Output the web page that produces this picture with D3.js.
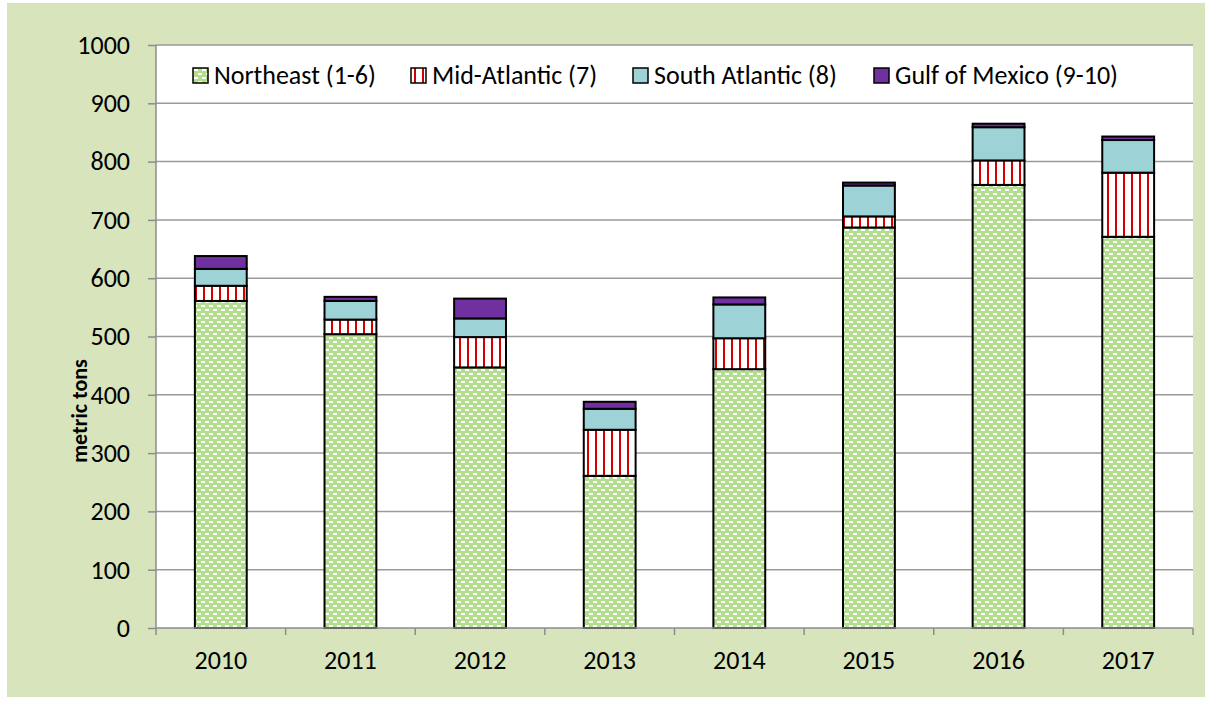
<!DOCTYPE html>
<html>
<head>
<meta charset="utf-8">
<script src="https://d3js.org/d3.v7.min.js"></script>
<style>
  body { margin: 0; background: white; }
  svg text { font-family: Carlito, 'Liberation Sans', Arial, sans-serif; fill: #000; }
</style>
</head>
<body>
<svg id="chart" width="1211" height="701"></svg>
<script>
// chart values
var years = ['2010', '2011', '2012', '2013', '2014', '2015', '2016', '2017'];
var northeast = [561, 504, 447, 261, 444, 687, 760, 671];
var midAtlantic = [26, 25, 52, 79, 53, 19, 42, 110];
var southAtlantic = [29, 32, 32, 36, 58, 53, 57, 56];
var gulfOfMexico = [22, 7, 34, 12, 12, 5, 6, 6];
var seriesNames = ['Northeast (1-6)', 'Mid-Atlantic (7)', 'South Atlantic (8)', 'Gulf of Mexico (9-10)'];
var yTicks = [0, 100, 200, 300, 400, 500, 600, 700, 800, 900, 1000];

var svg = d3.select('#chart');
var plotL = 156, plotR = 1193, plotT = 45, plotB = 628;

// outer background
svg.append('rect').attr('x', 7).attr('y', 3).attr('width', 1198).attr('height', 694)
  .attr('fill', '#d8e4bc');
svg.append('rect').attr('x', plotL).attr('y', plotT).attr('width', plotR - plotL).attr('height', plotB - plotT)
  .attr('fill', 'white');

// patterns
var defs = svg.append('defs');
var pNE = defs.append('pattern').attr('id', 'pNE').attr('patternUnits', 'userSpaceOnUse')
  .attr('width', 8).attr('height', 8);
pNE.append('rect').attr('width', 8).attr('height', 8).attr('fill', '#b3de8d');
pNE.append('rect').attr('x', 1).attr('y', 1).attr('width', 4).attr('height', 2).attr('fill', 'white');
pNE.append('rect').attr('x', 5).attr('y', 5).attr('width', 4).attr('height', 2).attr('fill', 'white');
pNE.append('rect').attr('x', -3).attr('y', 5).attr('width', 4).attr('height', 2).attr('fill', 'white');

var pMA = defs.append('pattern').attr('id', 'pMA').attr('patternUnits', 'userSpaceOnUse')
  .attr('width', 8).attr('height', 8);
pMA.append('rect').attr('width', 8).attr('height', 8).attr('fill', 'white');
pMA.append('rect').attr('x', 3).attr('width', 2).attr('height', 8).attr('fill', '#d40000');

var fills = ['url(#pNE)', 'url(#pMA)', '#9dd3d7', '#7030a0'];

var x = d3.scaleBand().domain(years).range([plotL, plotR]).paddingInner(0.6).paddingOuter(0.3);
var xb = d3.scaleBand().domain(years).range([plotL, plotR]);
var y = d3.scaleLinear().domain([0, 1000]).range([plotB, plotT]);

// grid
svg.append('g').selectAll('line').data(yTicks.slice(1)).join('line')
  .attr('x1', plotL).attr('x2', plotR)
  .attr('y1', function (d) { return y(d); }).attr('y2', function (d) { return y(d); })
  .attr('stroke', '#9a9a9a').attr('stroke-width', 1.5);

// stacked bars
var table = years.map(function (yr, i) {
  return { year: yr, ne: northeast[i], ma: midAtlantic[i], sa: southAtlantic[i], gm: gulfOfMexico[i] };
});
var stack = d3.stack().keys(['ne', 'ma', 'sa', 'gm'])(table);

svg.append('g').selectAll('g').data(stack).join('g')
  .attr('fill', function (d, i) { return fills[i]; })
  .selectAll('rect').data(function (d) { return d; }).join('rect')
  .attr('x', function (d) { return x(d.data.year); })
  .attr('width', x.bandwidth())
  .attr('y', function (d) { return y(d[1]); })
  .attr('height', function (d) { return y(d[0]) - y(d[1]); })
  .attr('stroke', '#000').attr('stroke-width', 2);

// y axis
var yAxis = svg.append('g').attr('transform', 'translate(' + plotL + ',0)')
  .call(d3.axisLeft(y).tickValues(yTicks).tickFormat(d3.format('d')).tickSize(8).tickPadding(18));
yAxis.select('.domain').attr('stroke', '#8c8c8c').attr('stroke-width', 1.5).attr('d', 'M0,' + plotT + 'V' + plotB);
yAxis.selectAll('.tick line').attr('stroke', '#8c8c8c').attr('stroke-width', 1.5);
yAxis.selectAll('.tick text').style('font-size', '26px');

// x axis
var xAxis = svg.append('g').attr('transform', 'translate(0,' + plotB + ')')
  .call(d3.axisBottom(xb).tickSize(0).tickPadding(20));
xAxis.select('.domain').attr('stroke', '#8c8c8c').attr('stroke-width', 1.5).attr('d', 'M' + plotL + ',0H' + plotR);
xAxis.selectAll('.tick text').style('font-size', '26px').attr('dy', null).attr('y', 41);
svg.append('g').selectAll('line').data(d3.range(years.length + 1)).join('line')
  .attr('x1', function (i) { return plotL + i * xb.step(); })
  .attr('x2', function (i) { return plotL + i * xb.step(); })
  .attr('y1', plotB).attr('y2', plotB + 7)
  .attr('stroke', '#8c8c8c').attr('stroke-width', 1.5);

// y title
svg.append('text').attr('transform', 'translate(87,411) rotate(-90)')
  .attr('text-anchor', 'middle').style('font-size', '22px').style('font-weight', 'bold')
  .text('metric tons');

// legend
var legX = [193, 411, 633, 874];
var leg = svg.append('g').selectAll('g').data(seriesNames).join('g')
  .attr('transform', function (d, i) { return 'translate(' + legX[i] + ',68)'; });
leg.append('rect').attr('width', 15).attr('height', 15)
  .attr('fill', function (d, i) { return fills[i]; })
  .attr('stroke', '#000').attr('stroke-width', 1.5);
leg.append('text').attr('x', 21).attr('y', 16).style('font-size', '26px')
  .text(function (d) { return d; });
</script>
</body>
</html>
